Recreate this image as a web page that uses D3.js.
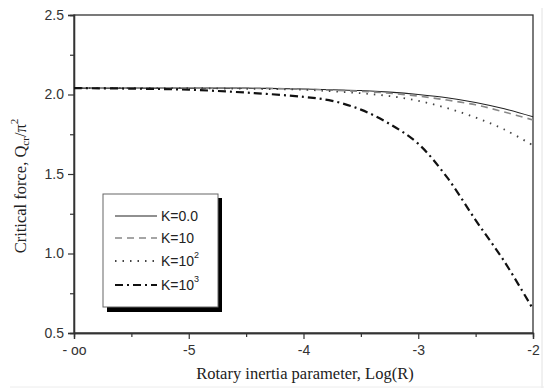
<!DOCTYPE html>
<html>
<head>
<meta http-equiv="Content-Type" content="text/html;charset=utf-8">
<title>Critical force</title>
<script src="https://d3js.org/d3.v7.min.js"></script>
<style>
  html, body { margin: 0; padding: 0; background: #fff; }
  .tick text { font-family: "Liberation Sans", Arial, sans-serif; font-size: 14px; fill: #333; }
  .lbl { font-family: "Liberation Serif", "Times New Roman", serif; font-size: 16.5px; fill: #222; }
  .leg { font-family: "Liberation Sans", Arial, sans-serif; font-size: 14px; fill: #222; }
</style>
</head>
<body>
<script>
// log(R); -6 stands for -infinity on the axis
let logR = [-6, -5.5, -5, -4.5, -4, -3.75, -3.5, -3.25, -3, -2.75, -2.5, -2.25, -2];
let k0    = [2.04, 2.04, 2.04, 2.04, 2.035, 2.03, 2.025, 2.015, 2.0, 1.98, 1.95, 1.91, 1.86];
let k10   = [2.04, 2.04, 2.04, 2.04, 2.033, 2.027, 2.02, 2.008, 1.99, 1.965, 1.935, 1.89, 1.84];
let k100  = [2.04, 2.04, 2.04, 2.036, 2.03, 2.02, 2.008, 1.99, 1.96, 1.915, 1.855, 1.78, 1.68];
let k1000 = [2.04, 2.037, 2.03, 2.012, 1.985, 1.96, 1.905, 1.815, 1.69, 1.48, 1.21, 0.95, 0.65];
let xTicks = [-6, -5, -4, -3, -2];
let xTickLabels = ["- oo", "-5", "-4", "-3", "-2"];
let yTicks = [0.5, 1.0, 1.5, 2.0, 2.5];
let legendNames = ["K=0.0", "K=10", "K=10", "K=10"];
let legendSup = ["", "", "2", "3"];

let W = 544, H = 388;
let mLeft = 74, mRight = 533, mTop = 15, mBottom = 333;

let svg = d3.select("body").append("svg")
  .attr("width", W).attr("height", H);

let x = d3.scaleLinear().domain([-6, -2]).range([mLeft, mRight]);
let y = d3.scaleLinear().domain([0.5, 2.5]).range([mBottom, mTop]);

// faint scan edges
svg.append("line").attr("x1", 542).attr("x2", 542).attr("y1", 8).attr("y2", 388)
  .attr("stroke", "#e2e2e2").attr("stroke-width", 1);
svg.append("line").attr("x1", 10).attr("x2", 544).attr("y1", 387).attr("y2", 387)
  .attr("stroke", "#ececec").attr("stroke-width", 1);

// frame
svg.append("rect")
  .attr("x", mLeft).attr("y", mTop)
  .attr("width", mRight - mLeft).attr("height", mBottom - mTop)
  .attr("fill", "none").attr("stroke", "#333").attr("stroke-width", 1.3);

// axes
svg.append("g").attr("transform", "translate(0," + mBottom + ")")
  .call(d3.axisBottom(x).tickValues(xTicks).tickFormat((d, i) => xTickLabels[i]).tickSize(6).tickPadding(6));
svg.append("g").attr("transform", "translate(0," + mBottom + ")")
  .call(d3.axisBottom(x).tickValues([-5.5, -4.5, -3.5, -2.5]).tickFormat("").tickSize(4));
svg.append("g").attr("transform", "translate(" + mLeft + ",0)")
  .call(d3.axisLeft(y).tickValues(yTicks).tickFormat(d3.format(".1f")).tickSize(6).tickPadding(4));
svg.append("g").attr("transform", "translate(" + mLeft + ",0)")
  .call(d3.axisLeft(y).tickValues([0.75, 1.25, 1.75, 2.25]).tickFormat("").tickSize(4));
svg.selectAll(".domain").attr("stroke", "#333").attr("stroke-width", 1.3);
svg.selectAll(".tick line").attr("stroke", "#333").attr("stroke-width", 1.2);

// axis labels
svg.append("text").attr("class", "lbl")
  .attr("x", 305).attr("y", 379)
  .attr("text-anchor", "middle")
  .text("Rotary inertia parameter, Log(R)");

let yl = svg.append("text").attr("class", "lbl")
  .attr("transform", "translate(26," + 186 + ") rotate(-90)")
  .attr("text-anchor", "middle");
yl.append("tspan").text("Critical force, Q");
yl.append("tspan").attr("font-size", 11).attr("dy", 3).text("cr");
yl.append("tspan").attr("dy", -3).text("/\u03c0");
yl.append("tspan").attr("font-size", 11).attr("dy", -8).text("2");

// curves
let series = [
  { v: k0, color: "#222", dash: null, w: 1.1 },
  { v: k10, color: "#888", dash: "7,5", w: 1.6 },
  { v: k100, color: "#444", dash: "1.5,6", w: 1.8 },
  { v: k1000, color: "#111", dash: "8,4,2,4", w: 2.2 }
];

let line = d3.line()
  .x(function(d, i) { return x(logR[i]); })
  .y(function(d) { return y(d); })
  .curve(d3.curveCatmullRom.alpha(0.5));

series.forEach(function(s) {
  svg.append("path")
    .attr("d", line(s.v))
    .attr("fill", "none")
    .attr("stroke", s.color)
    .attr("stroke-width", s.w)
    .attr("stroke-dasharray", s.dash);
});

// legend
let lg = svg.append("g");
lg.append("rect").attr("x", 107).attr("y", 198).attr("width", 115).attr("height", 114).attr("fill", "#000");
lg.append("rect").attr("x", 103).attr("y", 194).attr("width", 115).attr("height", 113)
  .attr("fill", "#fff").attr("stroke", "#666").attr("stroke-width", 1);

let legY = [216, 238, 261, 285];
series.forEach(function(s, i) {
  lg.append("line")
    .attr("x1", 115).attr("x2", 157)
    .attr("y1", legY[i]).attr("y2", legY[i])
    .attr("stroke", s.color).attr("stroke-width", s.w)
    .attr("stroke-dasharray", s.dash);
  let t = lg.append("text").attr("class", "leg")
    .attr("x", 161).attr("y", legY[i] + 5).text(legendNames[i]);
  if (legendSup[i]) {
    t.append("tspan").attr("font-size", 9).attr("dy", -8).text(legendSup[i]);
  }
});
</script>
</body>
</html>
